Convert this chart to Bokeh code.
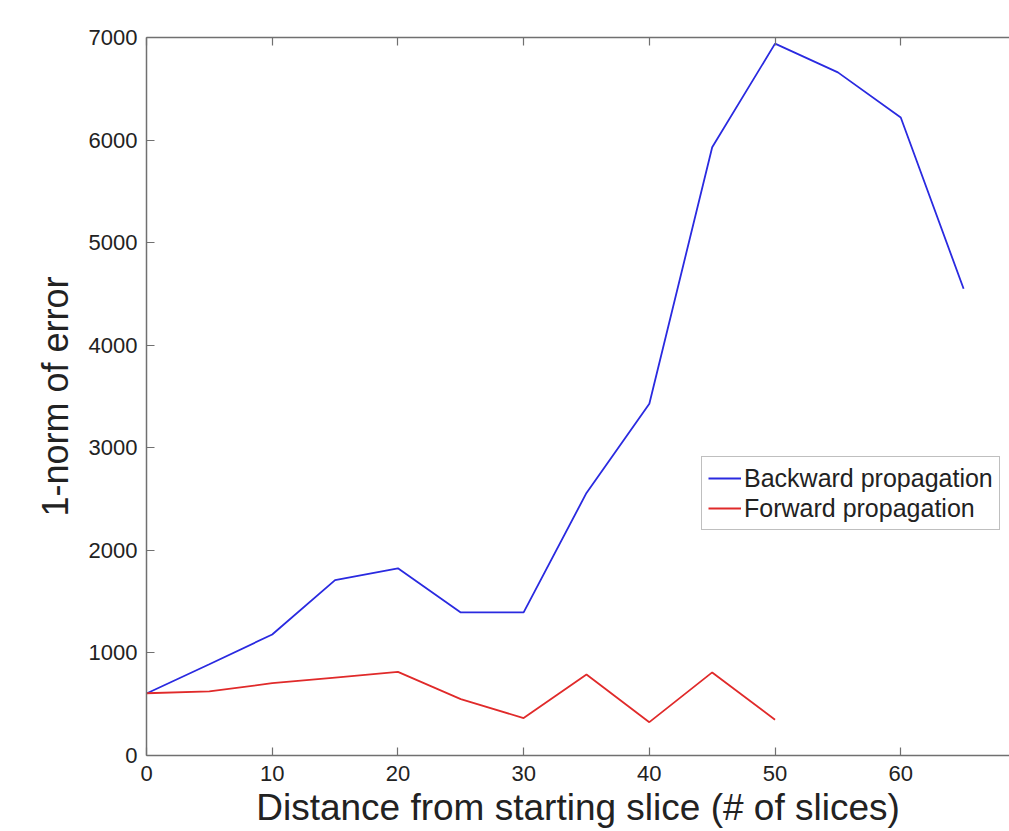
from bokeh.plotting import figure
from bokeh.models import LinearAxis, Legend, LegendItem, FixedTicker, Range1d
from bokeh.embed import file_html
from bokeh.resources import INLINE

# ---- data ----
x_backward = [0, 5, 10, 15, 20, 25, 30, 35, 40, 45, 50, 55, 60, 65]
backward = [605, 890, 1180, 1710, 1825, 1395, 1395, 2560, 3430, 5930, 6940, 6660, 6220, 4550]
x_forward = [0, 5, 10, 15, 20, 25, 30, 35, 40, 45, 50]
forward = [607, 625, 705, 760, 815, 550, 365, 790, 325, 810, 348]
x_ticks = [0, 10, 20, 30, 40, 50, 60]
y_ticks = [0, 1000, 2000, 3000, 4000, 5000, 6000, 7000]
x_title = "Distance from starting slice (# of slices)"
y_title = "1-norm of error"
series_names = ["Backward propagation", "Forward propagation"]

FONT = "Liberation Sans"
AXIS_COLOR = "#707070"
TEXT_COLOR = "#222222"

p = figure(width=1009, height=831, x_range=Range1d(0, 68.65), y_range=Range1d(0, 7000),
           output_backend="svg", toolbar_location=None,
           min_border_left=146, min_border_top=37, min_border_right=0, min_border_bottom=76)
p.outline_line_color = None
p.xgrid.visible = False
p.ygrid.visible = False
p.background_fill_color = "white"
p.border_fill_color = "white"

def style_axis(ax):
    ax.axis_line_color = AXIS_COLOR
    ax.axis_line_width = 1.5
    ax.major_tick_line_color = AXIS_COLOR
    ax.major_tick_line_width = 1.2
    ax.major_tick_in = 8
    ax.major_tick_out = 0
    ax.minor_tick_line_color = None
    ax.major_label_text_font = FONT
    ax.major_label_text_color = TEXT_COLOR
    ax.major_label_text_font_size = "22px"
    ax.axis_label_text_font = FONT
    ax.axis_label_text_font_style = "normal"
    ax.axis_label_text_color = TEXT_COLOR

xa = p.xaxis[0]
xa.ticker = FixedTicker(ticks=x_ticks)
style_axis(xa)
xa.major_label_standoff = 10
xa.axis_label = x_title
xa.axis_label_text_font_size = "37px"
xa.axis_label_standoff = 3

ya = p.yaxis[0]
ya.ticker = FixedTicker(ticks=y_ticks)
style_axis(ya)
ya.major_label_standoff = 9
ya.axis_label = y_title
ya.axis_label_text_font_size = "36px"
ya.axis_label_standoff = 10

top = LinearAxis(ticker=FixedTicker(ticks=x_ticks))
style_axis(top)
top.major_label_overrides = {t: "" for t in x_ticks}
top.major_label_standoff = 0
p.add_layout(top, "above")

r_b = p.line(x_backward, backward, line_color="#2a2ae0", line_width=1.8)
r_f = p.line(x_forward, forward, line_color="#e02a2a", line_width=1.8)

legend = Legend(items=[LegendItem(label=series_names[0], renderers=[r_b]),
                       LegendItem(label=series_names[1], renderers=[r_f])],
                location=(555, 225))
legend.label_text_font = FONT
legend.label_text_font_size = "25px"
legend.label_text_color = TEXT_COLOR
legend.glyph_width = 33
legend.glyph_height = 30
legend.label_height = 30
legend.label_standoff = 3
legend.padding = 6
legend.spacing = 0
legend.margin = 0
legend.border_line_color = "#808080"
legend.border_line_width = 1
legend.background_fill_color = "white"
legend.background_fill_alpha = 1
p.add_layout(legend, "center")

open("out.html", "w").write(file_html(p, INLINE))
